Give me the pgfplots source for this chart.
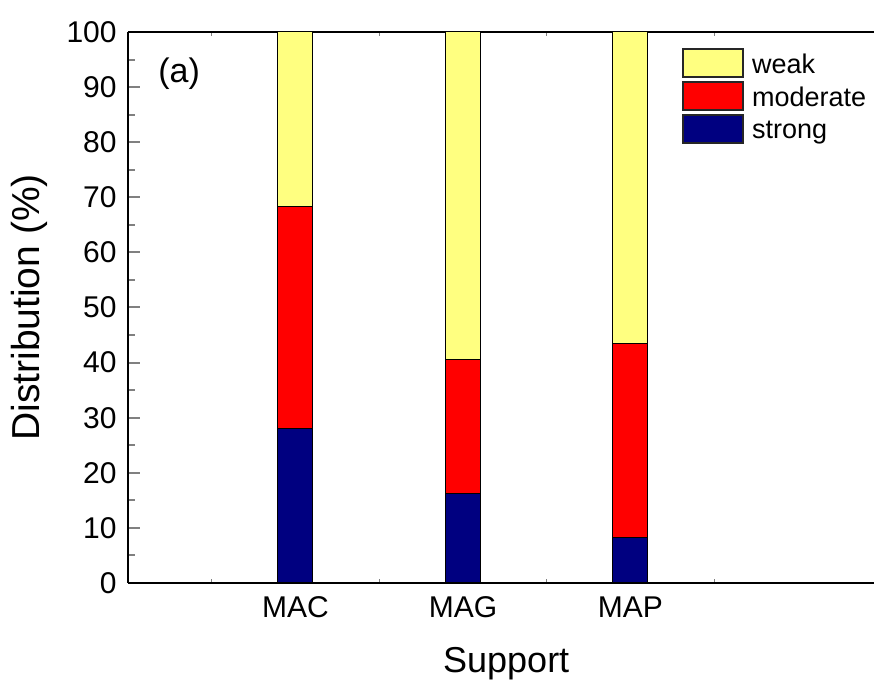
\documentclass[border=0pt]{standalone}
\usepackage{fontspec}
\setmainfont{Liberation Sans}
\usepackage{pgfplots}
\pgfplotsset{compat=1.18}
\definecolor{cweak}{HTML}{FFFF80}
\definecolor{cmod}{HTML}{FF0000}
\definecolor{cstrong}{HTML}{000080}
\begin{document}
\begin{tikzpicture}
\useasboundingbox (0,0) rectangle (437pt,342pt);
\begin{axis}[
  at={(64pt,50.5pt)}, anchor=south west,
  scale only axis, width=373pt, height=275.5pt,
  axis x line*=box, axis y line*=left,
  ybar stacked, bar width=17.5pt,
  xmin=0, xmax=4.454, ymin=0, ymax=100,
  xtick={1,2,3}, xticklabels={MAC,MAG,MAP},
  minor xtick={0.5,1.5,2.5,3.5},
  ytick={0,10,...,100}, minor ytick={5,15,...,95},
  axis line style={line width=1.3pt},
  tick align=inside,
  ytick pos=left,
  major tick length=6pt, minor tick length=3.5pt,
  xtick style={/pgfplots/major tick length=2pt,/pgfplots/minor tick length=2pt, line width=0.6pt},
  ytick style={line width=1pt},
  /pgf/number format/assume math mode=true,
  yticklabel style={font=\fontsize{15}{18}\selectfont, anchor=east, inner sep=0pt, xshift=-5.5pt},
  xticklabel style={font=\fontsize{15}{18}\selectfont, anchor=base, inner sep=0pt, yshift=-17.5pt},
  xlabel={Support}, ylabel={Distribution (\%)},
  xlabel style={font=\fontsize{18}{22}\selectfont, at={(axis description cs:0.507,-0.1633)}, anchor=base, inner sep=0pt},
  ylabel style={font=\fontsize{19.5}{23}\selectfont, at={(axis description cs:-0.1327,0.5)}, anchor=center, inner sep=0pt},
  legend cell align=left,
  reverse legend,
  legend image code/.code={\draw[#1, draw=black!85, line width=1pt] (0pt,-6pt) rectangle (30pt,8pt);},
  legend style={draw=none, fill=none, at={(axis description cs:0.7427,0.971)}, anchor=north west,
    font=\fontsize{13.5}{16}\selectfont, inner sep=0pt, outer sep=0pt, row sep=1.5pt, column sep=4pt,
    nodes={inner sep=0pt}},
]
\addplot[fill=cstrong, draw=black, line width=0.5pt] coordinates {(1,28.0) (2,16.2) (3,8.3)};
\addplot[fill=cmod, draw=black, line width=0.5pt] coordinates {(1,40.4) (2,24.3) (3,35.2)};
\addplot[fill=cweak, draw=black, line width=0.5pt] coordinates {(1,31.6) (2,59.5) (3,56.5)};
\legend{strong,moderate,weak}
\node[anchor=north west, inner sep=0pt, font=\fontsize{17}{20}\selectfont] at (axis description cs:0.0402,0.9546) {(a)};
\end{axis}
\end{tikzpicture}
\end{document}
